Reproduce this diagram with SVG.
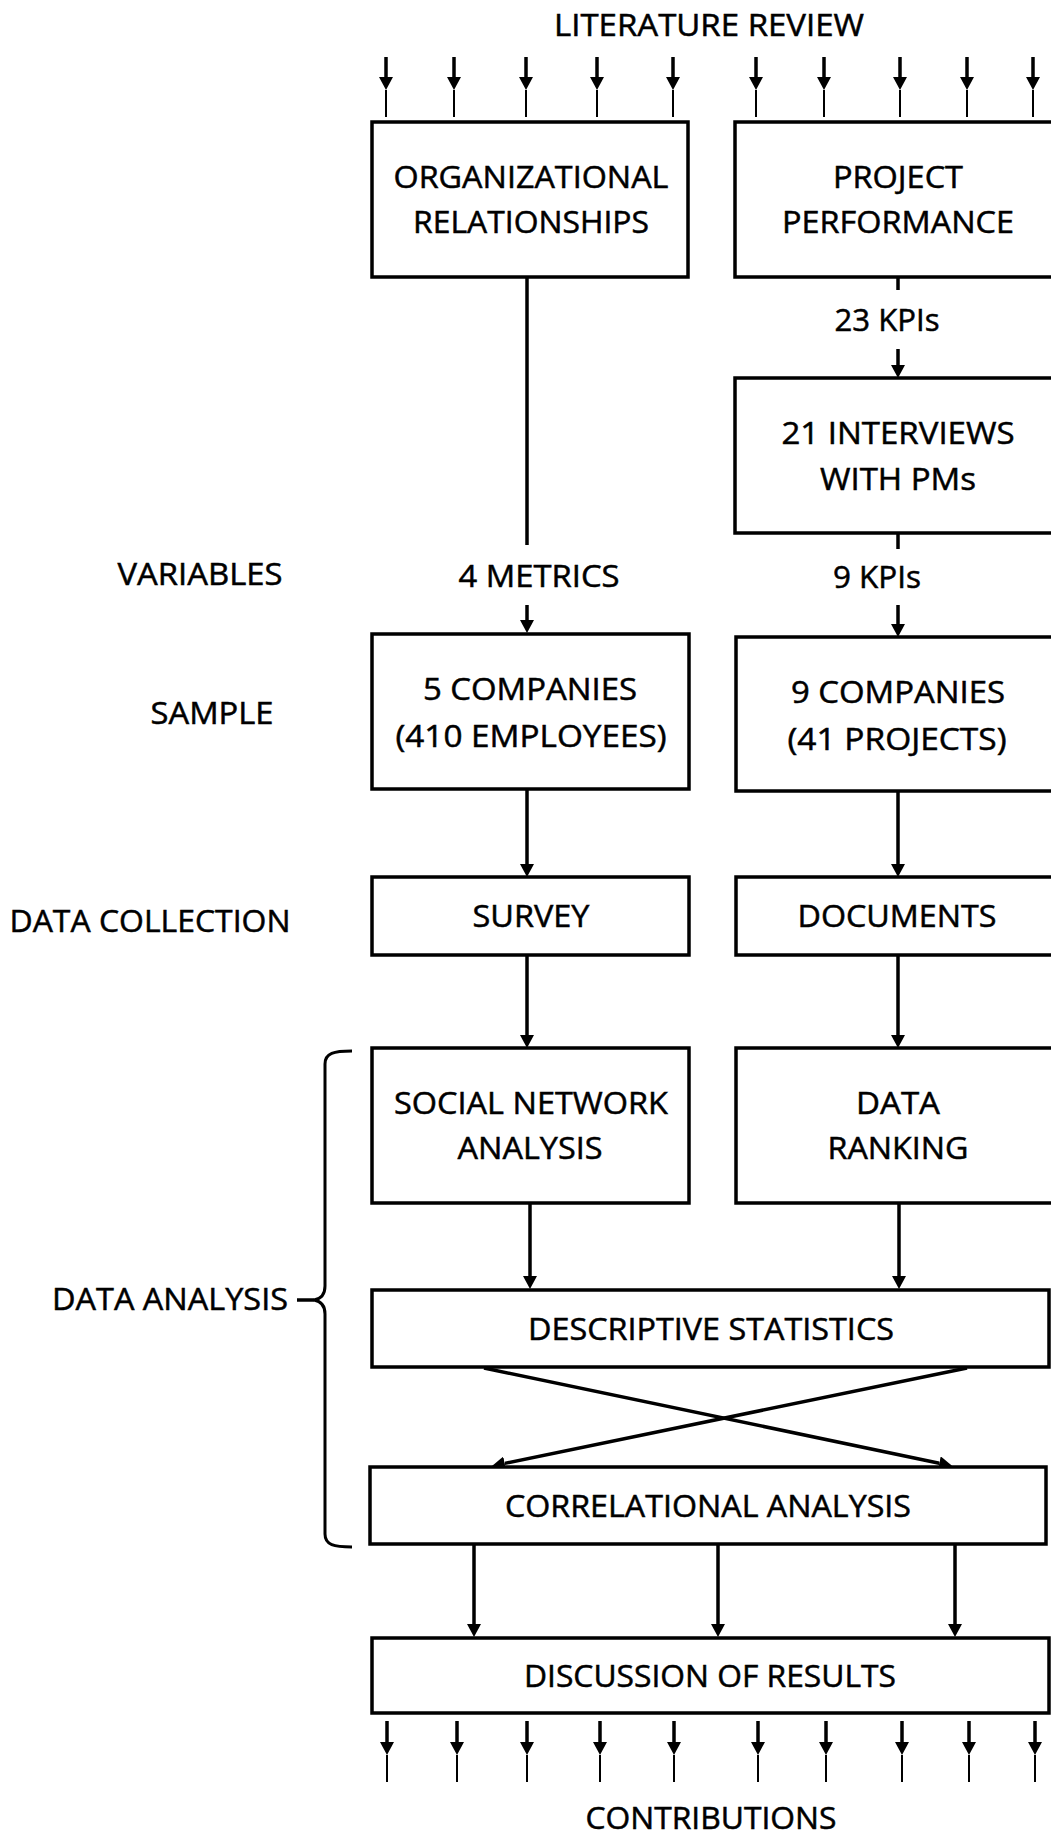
<svg xmlns="http://www.w3.org/2000/svg" width="1051" height="1835" viewBox="0 0 1051 1835">
<style>
.box{fill:#fff;stroke:#000;stroke-width:3.5}
.t{font-family:"Open Sans","Noto Sans","DejaVu Sans",sans-serif;font-size:30.5px;fill:#000;stroke:#000;stroke-width:0.5;text-anchor:middle}
.c{stroke:#000;stroke-width:3.5;fill:none}
.thin{stroke:#000;stroke-width:2;fill:none}
.a{marker-end:url(#ah)}
</style>
<defs>
<marker id="ah" markerUnits="userSpaceOnUse" viewBox="0 -7 13 14" markerWidth="13" markerHeight="14" refX="0" refY="0" orient="auto">
<path d="M0,-7 L13,0 L0,7 z" fill="#000"/>
</marker>
</defs>
<rect width="1051" height="1835" fill="#fff"/>

<g id="labels">
<text class="t" x="709" y="36" textLength="310" lengthAdjust="spacingAndGlyphs">LITERATURE REVIEW</text>
<text class="t" x="200" y="585" textLength="165" lengthAdjust="spacingAndGlyphs">VARIABLES</text>
<text class="t" x="212" y="724" textLength="123" lengthAdjust="spacingAndGlyphs">SAMPLE</text>
<text class="t" x="150" y="932" textLength="281" lengthAdjust="spacingAndGlyphs">DATA COLLECTION</text>
<text class="t" x="170" y="1310" textLength="236" lengthAdjust="spacingAndGlyphs">DATA ANALYSIS</text>
<text class="t" x="711" y="1829" textLength="251" lengthAdjust="spacingAndGlyphs">CONTRIBUTIONS</text>
<text class="t" x="887" y="331" textLength="105" lengthAdjust="spacingAndGlyphs">23 KPIs</text>
<text class="t" x="539" y="587" textLength="161" lengthAdjust="spacingAndGlyphs">4 METRICS</text>
<text class="t" x="877" y="588" textLength="88" lengthAdjust="spacingAndGlyphs">9 KPIs</text>
</g>

<g id="connectors">
<line class="c a" x1="386" y1="57" x2="386" y2="77"/><line class="thin" x1="386" y1="90" x2="386" y2="117"/>
<line class="c a" x1="454" y1="57" x2="454" y2="77"/><line class="thin" x1="454" y1="90" x2="454" y2="117"/>
<line class="c a" x1="526" y1="57" x2="526" y2="77"/><line class="thin" x1="526" y1="90" x2="526" y2="117"/>
<line class="c a" x1="597" y1="57" x2="597" y2="77"/><line class="thin" x1="597" y1="90" x2="597" y2="117"/>
<line class="c a" x1="673" y1="57" x2="673" y2="77"/><line class="thin" x1="673" y1="90" x2="673" y2="117"/>
<line class="c a" x1="756" y1="57" x2="756" y2="77"/><line class="thin" x1="756" y1="90" x2="756" y2="117"/>
<line class="c a" x1="824" y1="57" x2="824" y2="77"/><line class="thin" x1="824" y1="90" x2="824" y2="117"/>
<line class="c a" x1="900" y1="57" x2="900" y2="77"/><line class="thin" x1="900" y1="90" x2="900" y2="117"/>
<line class="c a" x1="967" y1="57" x2="967" y2="77"/><line class="thin" x1="967" y1="90" x2="967" y2="117"/>
<line class="c a" x1="1033" y1="57" x2="1033" y2="77"/><line class="thin" x1="1033" y1="90" x2="1033" y2="117"/>

<line class="c" x1="527" y1="277" x2="527" y2="545"/>
<line class="c a" x1="527" y1="605" x2="527" y2="620"/>
<line class="c a" x1="527" y1="789" x2="527" y2="864"/>
<line class="c a" x1="527" y1="955" x2="527" y2="1035"/>
<line class="c a" x1="530" y1="1203" x2="530" y2="1276"/>

<line class="c" x1="898" y1="277" x2="898" y2="290"/>
<line class="c a" x1="898" y1="349" x2="898" y2="365"/>
<line class="c" x1="898" y1="533" x2="898" y2="549"/>
<line class="c a" x1="898" y1="605" x2="898" y2="624"/>
<line class="c a" x1="898" y1="791" x2="898" y2="864"/>
<line class="c a" x1="898" y1="955" x2="898" y2="1035"/>
<line class="c a" x1="899" y1="1203" x2="899" y2="1276"/>

<line class="c a" x1="484" y1="1368" x2="939.3" y2="1463.2"/>
<line class="c a" x1="967" y1="1368" x2="504.7" y2="1463.4"/>

<line class="c a" x1="474" y1="1544" x2="474" y2="1624"/>
<line class="c a" x1="718" y1="1544" x2="718" y2="1624"/>
<line class="c a" x1="955" y1="1544" x2="955" y2="1624"/>

<line class="c a" x1="387" y1="1721" x2="387" y2="1742"/><line class="thin" x1="387" y1="1755" x2="387" y2="1782"/>
<line class="c a" x1="457" y1="1721" x2="457" y2="1742"/><line class="thin" x1="457" y1="1755" x2="457" y2="1782"/>
<line class="c a" x1="527" y1="1721" x2="527" y2="1742"/><line class="thin" x1="527" y1="1755" x2="527" y2="1782"/>
<line class="c a" x1="600" y1="1721" x2="600" y2="1742"/><line class="thin" x1="600" y1="1755" x2="600" y2="1782"/>
<line class="c a" x1="674" y1="1721" x2="674" y2="1742"/><line class="thin" x1="674" y1="1755" x2="674" y2="1782"/>
<line class="c a" x1="758" y1="1721" x2="758" y2="1742"/><line class="thin" x1="758" y1="1755" x2="758" y2="1782"/>
<line class="c a" x1="826" y1="1721" x2="826" y2="1742"/><line class="thin" x1="826" y1="1755" x2="826" y2="1782"/>
<line class="c a" x1="902" y1="1721" x2="902" y2="1742"/><line class="thin" x1="902" y1="1755" x2="902" y2="1782"/>
<line class="c a" x1="969" y1="1721" x2="969" y2="1742"/><line class="thin" x1="969" y1="1755" x2="969" y2="1782"/>
<line class="c a" x1="1035" y1="1721" x2="1035" y2="1742"/><line class="thin" x1="1035" y1="1755" x2="1035" y2="1782"/>

<path class="c" style="stroke-width:3" d="M352,1051 C334,1051 325,1053 325,1064 L325,1286 C325,1295 320,1299 314,1300 C320,1301 325,1305 325,1314 L325,1534 C325,1545 334,1547 352,1547"/>
<line class="c" x1="297" y1="1300" x2="314" y2="1300"/>
</g>

<g id="org">
<rect class="box" x="372" y="122" width="316" height="155"/>
<text class="t" x="531" y="188" textLength="275" lengthAdjust="spacingAndGlyphs">ORGANIZATIONAL</text>
<text class="t" x="531" y="233" textLength="236" lengthAdjust="spacingAndGlyphs">RELATIONSHIPS</text>
</g>
<g id="proj">
<rect class="box" x="735" y="122" width="330" height="155"/>
<text class="t" x="898" y="188" textLength="130" lengthAdjust="spacingAndGlyphs">PROJECT</text>
<text class="t" x="898" y="233" textLength="232" lengthAdjust="spacingAndGlyphs">PERFORMANCE</text>
</g>
<g id="interviews">
<rect class="box" x="735" y="378" width="330" height="155"/>
<text class="t" x="898" y="444" textLength="233" lengthAdjust="spacingAndGlyphs">21 INTERVIEWS</text>
<text class="t" x="898" y="490" textLength="156" lengthAdjust="spacingAndGlyphs">WITH PMs</text>
</g>
<g id="comp5">
<rect class="box" x="372" y="634" width="317" height="155"/>
<text class="t" x="530" y="700" textLength="214" lengthAdjust="spacingAndGlyphs">5 COMPANIES</text>
<text class="t" x="531" y="747" textLength="271" lengthAdjust="spacingAndGlyphs">(410 EMPLOYEES)</text>
</g>
<g id="comp9">
<rect class="box" x="736" y="637" width="330" height="154"/>
<text class="t" x="898" y="703" textLength="214" lengthAdjust="spacingAndGlyphs">9 COMPANIES</text>
<text class="t" x="897" y="750" textLength="219" lengthAdjust="spacingAndGlyphs">(41 PROJECTS)</text>
</g>
<g id="survey">
<rect class="box" x="372" y="877" width="317" height="78"/>
<text class="t" x="531" y="927" textLength="117" lengthAdjust="spacingAndGlyphs">SURVEY</text>
</g>
<g id="documents">
<rect class="box" x="736" y="877" width="330" height="78"/>
<text class="t" x="897" y="927" textLength="199" lengthAdjust="spacingAndGlyphs">DOCUMENTS</text>
</g>
<g id="sna">
<rect class="box" x="372" y="1048" width="317" height="155"/>
<text class="t" x="531" y="1114" textLength="274" lengthAdjust="spacingAndGlyphs">SOCIAL NETWORK</text>
<text class="t" x="530" y="1159" textLength="145" lengthAdjust="spacingAndGlyphs">ANALYSIS</text>
</g>
<g id="ranking">
<rect class="box" x="736" y="1048" width="330" height="155"/>
<text class="t" x="898" y="1114" textLength="84" lengthAdjust="spacingAndGlyphs">DATA</text>
<text class="t" x="898" y="1159" textLength="141" lengthAdjust="spacingAndGlyphs">RANKING</text>
</g>
<g id="descriptive">
<rect class="box" x="372" y="1290" width="677" height="77"/>
<text class="t" x="711" y="1340" textLength="366" lengthAdjust="spacingAndGlyphs">DESCRIPTIVE STATISTICS</text>
</g>
<g id="correlational">
<rect class="box" x="370" y="1467" width="676" height="77"/>
<text class="t" x="708" y="1517" textLength="406" lengthAdjust="spacingAndGlyphs">CORRELATIONAL ANALYSIS</text>
</g>
<g id="discussion">
<rect class="box" x="372" y="1638" width="677" height="75"/>
<text class="t" x="710" y="1687" textLength="372" lengthAdjust="spacingAndGlyphs">DISCUSSION OF RESULTS</text>
</g>
</svg>
